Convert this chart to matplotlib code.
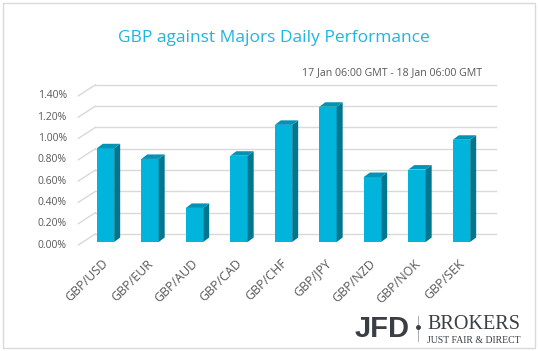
import numpy as np
import matplotlib
matplotlib.use("Agg")
import matplotlib.pyplot as plt
from matplotlib.patches import Polygon, Rectangle
from matplotlib.transforms import offset_copy

pairs = ["GBP/USD", "GBP/EUR", "GBP/AUD", "GBP/CAD", "GBP/CHF",
         "GBP/JPY", "GBP/NZD", "GBP/NOK", "GBP/SEK"]
perf = [0.88, 0.78, 0.32, 0.81, 1.10, 1.27, 0.61, 0.68, 0.96]
yticks = [0.0, 0.2, 0.4, 0.6, 0.8, 1.0, 1.2, 1.4]
title = "GBP against Majors Daily Performance"
subtitle = "17 Jan 06:00 GMT - 18 Jan 06:00 GMT"

plt.rcParams['font.family'] = ['Open Sans', 'DejaVu Sans']
W, H = 538, 351
fig = plt.figure(figsize=(W / 100, H / 100), dpi=100)

# front plane of the bars, in pixels
left, right, base, top = 83.25, 483.75, 242, 92.9
ax = fig.add_axes([left / W, (H - base) / H, (right - left) / W, (base - top) / H])
ax.set_xlim(-0.5, len(pairs) - 0.5)
ax.set_ylim(0, 1.4)
ax.set_axis_off()

grid_c = "#d9d9d9"
txt_c = "#595959"
front_c, side_c, top_c = "#00b4dc", "#00768f", "#0093b3"

back = offset_copy(ax.transData, fig=fig, x=12, y=8, units='dots')
inv = ax.transData.inverted()


def shift(x, y, px, py):
    d = ax.transData.transform((x, y))
    return tuple(inv.transform((d[0] + px, d[1] + py)))


# back wall + side wall gridlines
lab = offset_copy(ax.transData, fig=fig, x=-16.5, y=-3, units='dots')
for v in yticks:
    ax.plot([-0.5, len(pairs) - 0.5], [v, v], color=grid_c, lw=1,
            transform=back, clip_on=False)
    p0 = shift(-0.5, v, -5, -3)
    p1 = shift(-0.5, v, 12, 8)
    ax.plot([p0[0], p1[0]], [p0[1], p1[1]], color=grid_c, lw=1, clip_on=False)
    ax.text(-0.5, v, f"{v:.2f}%", transform=lab, ha='right', va='center',
            fontsize=7.5, color=txt_c)

# bars with a simple 3d look
w = 0.39
dx, dy = 6, 4.5
x = np.arange(len(pairs))
ax.bar(x, perf, width=w, color=front_c, edgecolor='none', zorder=3)
for i, v in zip(x, perf):
    x0, x1 = i - w / 2, i + w / 2
    side = [(x1, 0), (x1, v), shift(x1, v, dx, dy), shift(x1, 0, dx, dy)]
    topf = [(x0, v), (x1, v), shift(x1, v, dx, dy), shift(x0, v, dx, dy)]
    ax.add_patch(Polygon(side, closed=True, color=side_c, lw=0, zorder=3, clip_on=False))
    ax.add_patch(Polygon(topf, closed=True, color=top_c, lw=0, zorder=3, clip_on=False))

xl = offset_copy(ax.transData, fig=fig, x=-3.5, y=-15, units='dots')
for i, name in zip(x, pairs):
    ax.text(i, 0, name, transform=xl, rotation=45, rotation_mode='anchor',
            ha='right', va='top', fontsize=9, color=txt_c)

# titles
fig.text(274 / W, 1 - 38 / H, title, ha='center', va='center',
         fontsize=12.5, color="#1fb5e0")
fig.text(482 / W, 1 - 73 / H, subtitle, ha='right', va='center',
         fontsize=7.7, color=txt_c)

# border
fig.patches.append(Rectangle((3 / W, 3 / H), 532 / W, 345 / H, transform=fig.transFigure,
                             fill=False, edgecolor=grid_c, lw=1))

# logo
logo_c = "#3a3f45"
fig.text(355 / W, 1 - 337 / H, "JFD", ha='left', va='baseline', fontsize=21,
         fontweight='bold', family='Liberation Sans', color=logo_c)
fig.add_artist(plt.Line2D([418 / W, 418 / W], [1 - 316 / H, 1 - 341 / H],
                          color="#9a9ea3", lw=0.6))
fig.add_artist(plt.Line2D([418 / W], [1 - 327 / H], marker='o', ms=2.5,
                          color=logo_c, lw=0))
fig.text(427 / W, 1 - 329 / H, "BROKERS", ha='left', va='baseline', fontsize=14.5,
         family='Liberation Serif', color=logo_c)
fig.text(427 / W, 1 - 343 / H, "JUST FAIR & DIRECT", ha='left', va='baseline',
         fontsize=7, family='Liberation Serif', color=logo_c)

fig.savefig("out.png", dpi=100)
